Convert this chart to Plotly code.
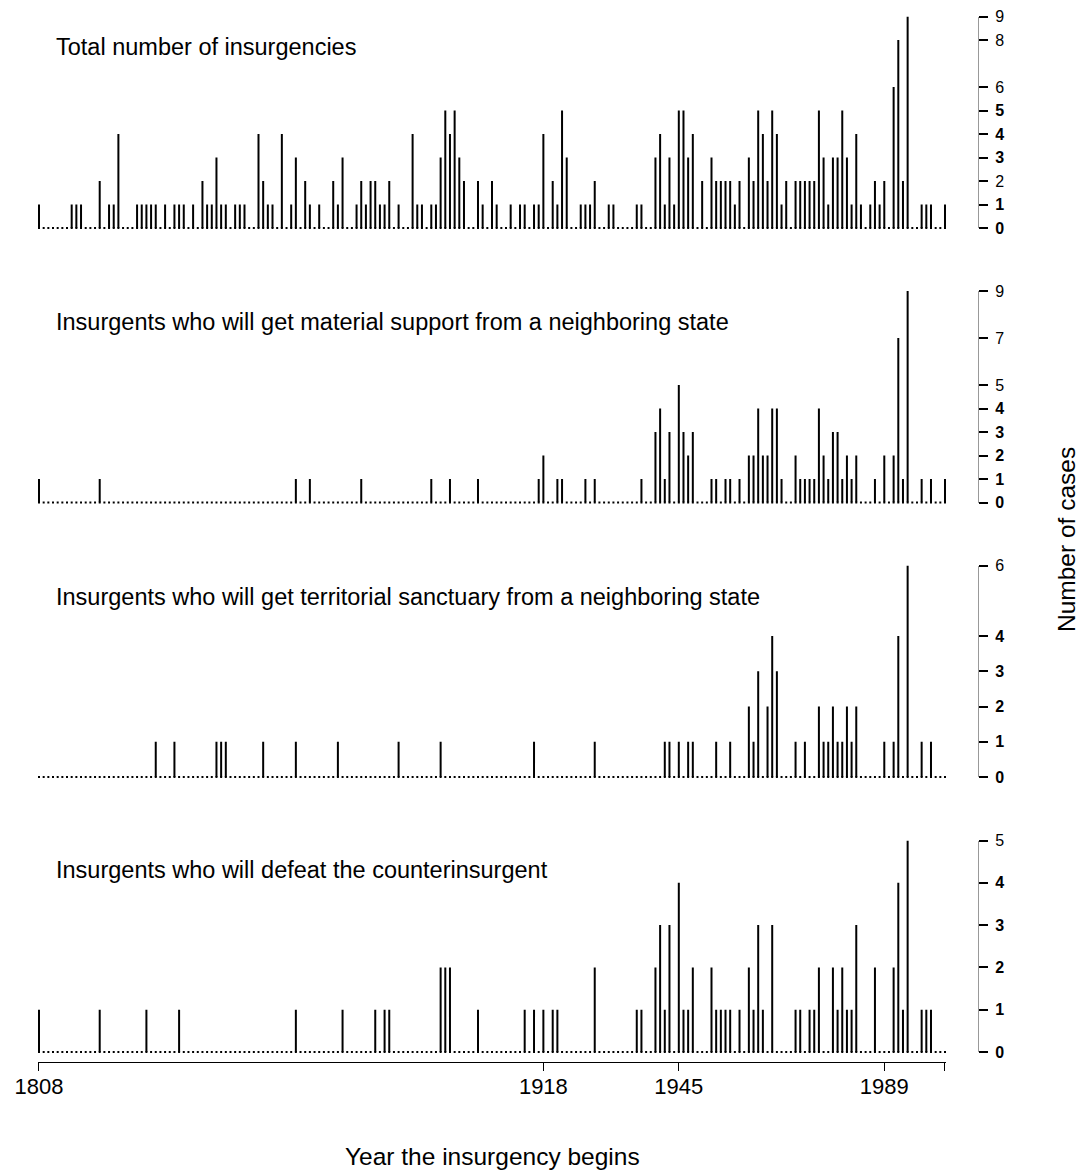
import plotly.graph_objects as go

# ---------------- data (year, number of cases) ----------------
all_years = list(range(1808, 2003))

total_years = [1808, 1815, 1816, 1817, 1821, 1823, 1824, 1825, 1829, 1830, 1831, 1832, 1833,
               1835, 1837, 1838, 1839, 1841, 1843, 1844, 1845, 1846, 1847, 1848, 1850, 1851,
               1852, 1855, 1856, 1857, 1858, 1860, 1862, 1863, 1865, 1866, 1868, 1871, 1872,
               1873, 1876, 1877, 1878, 1879, 1880, 1881, 1882, 1883, 1885, 1888, 1889, 1890,
               1892, 1893, 1894, 1895, 1896, 1897, 1898, 1899, 1902, 1903, 1905, 1906, 1909,
               1911, 1912, 1914, 1915, 1916, 1918, 1919, 1920, 1921, 1924, 1925, 1926, 1927,
               1930, 1931, 1936, 1937, 1940, 1941, 1942, 1943, 1944, 1945, 1946, 1947, 1948,
               1950, 1952, 1953, 1954, 1955, 1956, 1957, 1958, 1960, 1961, 1962, 1963, 1964,
               1965, 1966, 1967, 1968, 1970, 1971, 1972, 1973, 1974, 1975, 1976, 1977, 1978,
               1979, 1980, 1981, 1982, 1983, 1984, 1986, 1987, 1988, 1989, 1991, 1992, 1993,
               1994, 1997, 1998, 1999, 2002]
total_vals = [1, 1, 1, 1, 2, 1, 1, 4, 1, 1, 1, 1, 1,
              1, 1, 1, 1, 1, 2, 1, 1, 3, 1, 1, 1, 1,
              1, 4, 2, 1, 1, 4, 1, 3, 2, 1, 1, 2, 1,
              3, 1, 2, 1, 2, 2, 1, 1, 2, 1, 4, 1, 1,
              1, 1, 3, 5, 4, 5, 3, 2, 2, 1, 2, 1, 1,
              1, 1, 1, 1, 4, 2, 1, 5, 3, 1, 1, 1, 2,
              1, 1, 1, 1, 3, 4, 1, 3, 1, 5, 5, 3, 4,
              2, 3, 2, 2, 2, 2, 1, 2, 3, 2, 5, 4, 2,
              5, 4, 1, 2, 2, 2, 2, 2, 2, 5, 3, 1, 3,
              3, 5, 3, 1, 4, 1, 1, 2, 1, 2, 6, 8, 2,
              9, 1, 1, 1, 1]

material_years = [1808, 1821, 1863, 1866, 1877, 1892, 1896, 1902, 1915, 1916, 1919, 1920, 1925,
                  1927, 1937, 1940, 1941, 1942, 1943, 1945, 1946, 1947, 1948, 1952, 1953, 1955,
                  1956, 1958, 1960, 1961, 1962, 1963, 1964, 1965, 1966, 1967, 1970, 1971, 1972,
                  1973, 1974, 1975, 1976, 1977, 1978, 1979, 1980, 1981, 1982, 1983, 1987, 1989,
                  1991, 1992, 1993, 1994, 1997, 1999, 2002]
material_vals = [1, 1, 1, 1, 1, 1, 1, 1, 1, 2, 1, 1, 1,
                 1, 1, 3, 4, 1, 3, 5, 3, 2, 3, 1, 1, 1,
                 1, 1, 2, 2, 4, 2, 2, 4, 4, 1, 2, 1, 1,
                 1, 1, 4, 2, 1, 3, 3, 1, 2, 1, 2, 1, 2,
                 2, 7, 1, 9, 1, 1, 1]

sanctuary_years = [1833, 1837, 1846, 1847, 1848, 1856, 1863, 1872, 1885, 1894, 1914, 1927, 1942,
                   1943, 1945, 1947, 1948, 1953, 1956, 1960, 1961, 1962, 1964, 1965, 1966, 1970,
                   1972, 1975, 1976, 1977, 1978, 1979, 1980, 1981, 1982, 1983, 1989, 1991, 1992,
                   1994, 1997, 1999]
sanctuary_vals = [1, 1, 1, 1, 1, 1, 1, 1, 1, 1, 1, 1, 1,
                  1, 1, 1, 1, 1, 1, 2, 1, 3, 2, 4, 3, 1,
                  1, 2, 1, 1, 2, 1, 1, 2, 1, 2, 1, 1, 4,
                  6, 1, 1]

defeat_years = [1808, 1821, 1831, 1838, 1863, 1873, 1880, 1882, 1883, 1894, 1895, 1896, 1902,
                1912, 1914, 1916, 1918, 1919, 1927, 1936, 1937, 1940, 1941, 1942, 1943, 1945,
                1946, 1947, 1948, 1952, 1953, 1954, 1955, 1956, 1958, 1960, 1961, 1962, 1963,
                1965, 1970, 1971, 1973, 1974, 1975, 1978, 1979, 1980, 1981, 1982, 1983, 1987,
                1991, 1992, 1993, 1994, 1997, 1998, 1999]
defeat_vals = [1, 1, 1, 1, 1, 1, 1, 1, 1, 2, 2, 2, 1,
               1, 1, 1, 1, 1, 2, 1, 1, 2, 3, 1, 3, 4,
               1, 1, 2, 2, 1, 1, 1, 1, 1, 2, 1, 3, 1,
               3, 1, 1, 1, 1, 2, 2, 1, 2, 1, 1, 3, 2,
               2, 4, 1, 5, 1, 1, 1]

panel_titles = ["Total number of insurgencies",
                "Insurgents who will get material support from a neighboring state",
                "Insurgents who will get territorial sanctuary from a neighboring state",
                "Insurgents who will defeat the counterinsurgent"]

x_tick_years = [1808, 1916, 1945, 1989, 2002]
x_tick_labels = ["1808", "1918", "1945", "1989", ""]

y_tick_sets = [[0, 1, 2, 3, 4, 5, 6, 8, 9],
               [0, 1, 2, 3, 4, 5, 7, 9],
               [0, 1, 2, 3, 4, 6],
               [0, 1, 2, 3, 4, 5]]
y_bold_sets = [[0, 1, 3, 4, 5],
               [0, 1, 2, 3, 4],
               [0, 1, 2, 3, 4],
               [0, 1, 2, 3, 4]]

series = [(total_years, total_vals), (material_years, material_vals),
          (sanctuary_years, sanctuary_vals), (defeat_years, defeat_vals)]

# ---------------- layout geometry (pixels) ----------------
W, H = 1083, 1176
FONT = "Liberation Sans, Arial, sans-serif"
baselines = [228, 502.5, 777, 1052]
panel_h = 211.5
title_y = [47, 322, 597, 870]
x_left_px, x_right_px = 39, 945


def fx(p):
    return p / W


def fy(p):
    return 1 - p / H


ppy = (x_right_px - x_left_px) / (2002 - 1808)
pad = 0.3

fig = go.Figure()
layout = dict(
    width=W, height=H,
    margin=dict(l=0, r=0, t=0, b=0, pad=0, autoexpand=False),
    paper_bgcolor="white", plot_bgcolor="white",
    showlegend=False,
    font=dict(family=FONT, color="black"),
    xaxis=dict(
        domain=[fx(x_left_px - pad * ppy), fx(x_right_px + pad * ppy)],
        range=[1808 - pad, 2002 + pad],
        anchor="free", position=fy(1062), automargin=False,
        showline=True, linecolor="black", linewidth=1,
        ticks="outside", ticklen=8, tickwidth=1, tickcolor="black",
        ticklabelstandoff=-3,
        tickvals=x_tick_years, ticktext=x_tick_labels,
        tickfont=dict(size=22, family=FONT),
        showgrid=False, zeroline=False,
    ),
)

for i, (yrs, vals) in enumerate(series):
    yname = "y" if i == 0 else f"y{i + 1}"
    axkey = "yaxis" if i == 0 else f"yaxis{i + 1}"
    ymax = max(vals)
    # spikes
    xs, ys = [], []
    for yr, v in zip(yrs, vals):
        xs += [yr, yr, None]
        ys += [0, v, None]
    fig.add_trace(go.Scatter(x=xs, y=ys, mode="lines", xaxis="x", yaxis=yname,
                             line=dict(color="black", width=2), hoverinfo="skip"))
    # dotted baseline: a point at every year
    fig.add_trace(go.Scatter(x=all_years, y=[0] * len(all_years), mode="markers",
                             xaxis="x", yaxis=yname, cliponaxis=False,
                             marker=dict(symbol="square", size=2, color="black",
                                         line=dict(width=0)),
                             hoverinfo="skip"))
    b = baselines[i]
    ticks = y_tick_sets[i]
    texts = [f"<b>{t}</b>" if t in y_bold_sets[i] else str(t) for t in ticks]
    layout[axkey] = dict(
        domain=[fy(b), fy(b - panel_h)],
        range=[0, ymax],
        anchor="free", position=fx(978), side="right", automargin=False,
        showline=True, linecolor="#999", linewidth=1,
        ticks="outside", ticklen=9, tickwidth=1.5, tickcolor="black",
        ticklabelstandoff=4,
        tickvals=ticks, ticktext=texts,
        tickfont=dict(size=16, family=FONT),
        showgrid=False, zeroline=False,
    )

annotations = []
for i, t in enumerate(panel_titles):
    annotations.append(dict(text=t, xref="paper", yref="paper", x=fx(54), y=fy(title_y[i]),
                            xanchor="left", yanchor="middle", showarrow=False,
                            font=dict(size=23.5, family=FONT, color="black")))
annotations.append(dict(text="Year the insurgency begins", xref="paper", yref="paper",
                        x=fx(492), y=fy(1156), xanchor="center", yanchor="middle",
                        showarrow=False, font=dict(size=24.5, family=FONT, color="black")))
annotations.append(dict(text="Number of cases", xref="paper", yref="paper",
                        x=fx(1066), y=fy(540), xanchor="center", yanchor="middle",
                        textangle=-90, showarrow=False,
                        font=dict(size=24.5, family=FONT, color="black")))
layout["annotations"] = annotations

fig.update_layout(**layout)
fig.write_html("out.html")
